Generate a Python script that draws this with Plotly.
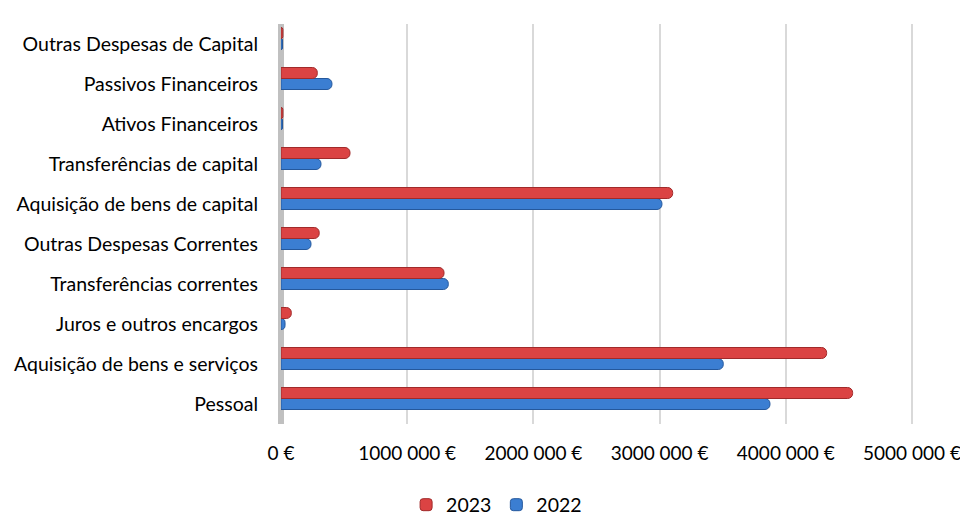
import plotly.graph_objects as go

categories = ["Pessoal", "Aquisição de bens e serviços", "Juros e outros encargos",
              "Transferências correntes", "Outras Despesas Correntes",
              "Aquisição de bens de capital", "Transferências de capital",
              "Ativos Financeiros", "Passivos Financeiros", "Outras Despesas de Capital"]
values_2023 = [4530000, 4324000, 82000, 1292000, 303000, 3104000, 547000, 15000, 288000, 15000]
values_2022 = [3875000, 3505000, 32000, 1326000, 238000, 3019000, 317000, 12000, 404000, 12000]
tick_vals = [0, 1000000, 2000000, 3000000, 4000000, 5000000]
tick_text = ["0 €", "1000 000 €", "2000 000 €", "3000 000 €", "4000 000 €", "5000 000 €"]

fig = go.Figure()
fig.add_trace(go.Bar(
    y=categories, x=values_2022, orientation="h", name="2022",
    offset=-0.1375, width=0.275,
    marker=dict(color="#3B7ED2", line=dict(color="#25589C", width=1), cornerradius=5),
    legendrank=2,
))
fig.add_trace(go.Bar(
    y=categories, x=values_2023, orientation="h", name="2023",
    offset=0.1375, width=0.275,
    marker=dict(color="#DB4343", line=dict(color="#A02A2A", width=1), cornerradius=5),
    legendrank=1,
))

fig.update_layout(
    width=960, height=516,
    margin=dict(l=281, r=43, t=24, b=92, autoexpand=False),
    paper_bgcolor="white", plot_bgcolor="white",
    barmode="overlay",
    font=dict(family="Lato, 'Open Sans', sans-serif", size=19.5, color="#000000"),
    showlegend=True,
    legend=dict(orientation="h", x=0.339, xanchor="center", y=-0.2025, yanchor="middle",
                font=dict(size=19.5), itemwidth=30, traceorder="normal"),
)
fig.update_xaxes(
    range=[0, 5040000], tickvals=tick_vals, ticktext=tick_text,
    tickfont=dict(size=19),
    showgrid=True, gridcolor="#D9D9D9", gridwidth=2,
    zeroline=True, zerolinecolor="#C0C0C0", zerolinewidth=6,
    showline=False, ticks="", ticklabelstandoff=16, ticklabeloverflow="allow",
    automargin=False,
)
fig.update_yaxes(
    categoryorder="array", categoryarray=categories, range=[-0.5, 9.5],
    showgrid=False, zeroline=False, showline=False, ticks="",
    ticklabelstandoff=22, automargin=False,
)

fig.write_html("out.html")
